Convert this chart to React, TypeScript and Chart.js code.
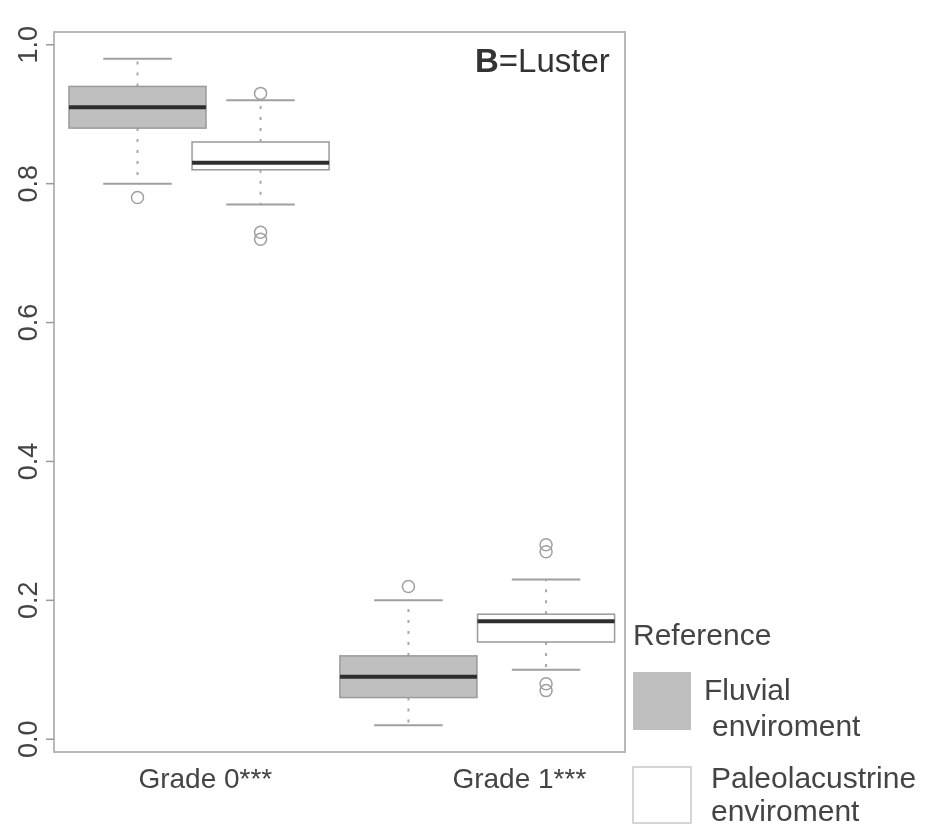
import React, { useEffect, useRef } from "react";
import { Chart, registerables } from "chart.js";
Chart.register(...registerables);

// ---- data ----
const groups = ["Grade 0***", "Grade 1***"];
const environments = ["Fluvial", "Paleolacustrine"];
const boxAt = [1.085, 1.947, 2.983, 3.947];
const labelAt = [1.56, 3.76];
const whiskerLow = [0.8, 0.77, 0.02, 0.1];
const q1 = [0.88, 0.82, 0.06, 0.14];
const median = [0.91, 0.83, 0.09, 0.17];
const q3 = [0.94, 0.86, 0.12, 0.18];
const whiskerHigh = [0.98, 0.92, 0.2, 0.23];
const outliers = [[0.78], [0.93, 0.73, 0.72], [0.22], [0.28, 0.27, 0.08, 0.07]];
const yTicks = [0, 0.2, 0.4, 0.6, 0.8, 1.0];
const yTickLabels = ["0.0", "0.2", "0.4", "0.6", "0.8", "1.0"];

const FONT = '"Liberation Sans", Arial, Helvetica, sans-serif';
const fills = ["#bfbfbf", "#ffffff"];
const BOX_W = 0.96;
const CAP_W = 0.48;

const boxPlugin = {
  id: "boxPlugin",
  beforeDatasetsDraw(chart: any) {
    const { ctx, chartArea, scales } = chart;
    const x = scales.x;
    const y = scales.y;
    ctx.save();
    // frame
    ctx.strokeStyle = "#b8b8b8";
    ctx.lineWidth = 2;
    ctx.strokeRect(chartArea.left, chartArea.top, chartArea.right - chartArea.left, chartArea.bottom - chartArea.top);
    // y ticks
    ctx.lineWidth = 1.5;
    ctx.strokeStyle = "#999";
    ctx.fillStyle = "#444";
    ctx.font = `27px ${FONT}`;
    ctx.textAlign = "center";
    ctx.textBaseline = "middle";
    yTicks.forEach((v, i) => {
      const py = y.getPixelForValue(v);
      ctx.beginPath();
      ctx.moveTo(chartArea.left - 8, py);
      ctx.lineTo(chartArea.left, py);
      ctx.stroke();
      ctx.save();
      ctx.translate(30, py);
      ctx.rotate(-Math.PI / 2);
      ctx.fillText(yTickLabels[i], 0, 0);
      ctx.restore();
    });
    // x labels
    ctx.font = `28px ${FONT}`;
    groups.forEach((g, i) => {
      ctx.fillText(g, x.getPixelForValue(labelAt[i]), chartArea.bottom + 28);
    });

    // boxes
    boxAt.forEach((at, i) => {
      const cx = x.getPixelForValue(at);
      const hw = x.getPixelForValue(at + BOX_W / 2) - cx;
      const cw = x.getPixelForValue(at + CAP_W / 2) - cx;
      const yq1 = y.getPixelForValue(q1[i]);
      const yq3 = y.getPixelForValue(q3[i]);
      const ymed = y.getPixelForValue(median[i]);
      const ylo = y.getPixelForValue(whiskerLow[i]);
      const yhi = y.getPixelForValue(whiskerHigh[i]);
      // whiskers (dotted)
      ctx.strokeStyle = "#a8a8a8";
      ctx.lineWidth = 2;
      ctx.setLineDash([3, 8]);
      ctx.beginPath();
      ctx.moveTo(cx, yq3);
      ctx.lineTo(cx, yhi);
      ctx.moveTo(cx, yq1);
      ctx.lineTo(cx, ylo);
      ctx.stroke();
      ctx.setLineDash([]);
      // caps
      ctx.strokeStyle = "#a0a0a0";
      ctx.beginPath();
      ctx.moveTo(cx - cw, yhi);
      ctx.lineTo(cx + cw, yhi);
      ctx.moveTo(cx - cw, ylo);
      ctx.lineTo(cx + cw, ylo);
      ctx.stroke();
      // box
      ctx.fillStyle = fills[i % 2];
      ctx.fillRect(cx - hw, yq3, hw * 2, yq1 - yq3);
      ctx.strokeStyle = "#9a9a9a";
      ctx.lineWidth = 1.5;
      ctx.strokeRect(cx - hw, yq3, hw * 2, yq1 - yq3);
      // median
      ctx.strokeStyle = "#2e2e2e";
      ctx.lineWidth = 4;
      ctx.beginPath();
      ctx.moveTo(cx - hw, ymed);
      ctx.lineTo(cx + hw, ymed);
      ctx.stroke();
    });

    // title
    ctx.textAlign = "left";
    ctx.textBaseline = "alphabetic";
    ctx.fillStyle = "#333";
    ctx.font = `bold 33px ${FONT}`;
    const tx = 475;
    ctx.fillText("B", tx, 72);
    const bw = ctx.measureText("B").width;
    ctx.font = `33px ${FONT}`;
    ctx.fillText("=Luster", tx + bw, 72);

    // legend
    ctx.fillStyle = "#444";
    ctx.font = `30px ${FONT}`;
    ctx.textBaseline = "middle";
    ctx.fillText("Reference", 633, 637);
    ctx.fillStyle = fills[0];
    ctx.fillRect(633, 672, 58, 58);
    ctx.fillStyle = fills[1];
    ctx.fillRect(633, 767, 58, 56);
    ctx.strokeStyle = "#c8c8c8";
    ctx.lineWidth = 1.5;
    ctx.strokeRect(633, 767, 58, 56);
    ctx.fillStyle = "#444";
    ctx.font = `30px ${FONT}`;
    ctx.fillText(environments[0], 704, 692);
    ctx.fillText("enviroment", 712, 728);
    ctx.fillText(environments[1], 711, 780);
    ctx.fillText("enviroment", 711, 813);
    ctx.restore();
  },
};

export default function App() {
  const ref = useRef<HTMLCanvasElement | null>(null);
  useEffect(() => {
    if (!ref.current) return;
    const datasets = boxAt.map((at, i) => ({
      label: `${groups[Math.floor(i / 2)]} ${environments[i % 2]}`,
      data: outliers[i].map((v) => ({ x: at, y: v })),
      pointStyle: "circle",
      pointRadius: 6,
      pointBorderWidth: 1.5,
      pointBorderColor: "#a0a0a0",
      pointBackgroundColor: "rgba(0,0,0,0)",
      showLine: false,
    }));
    const chart = new Chart(ref.current, {
      type: "scatter",
      data: { datasets },
      options: {
        animation: false,
        responsive: false,
        devicePixelRatio: 1,
        layout: { padding: { left: 54, top: 32, right: 310, bottom: 76 } },
        scales: {
          x: { type: "linear", min: 0.5, max: 4.5, display: false },
          y: { type: "linear", min: -0.0184, max: 1.0184, display: false },
        },
        plugins: { legend: { display: false }, tooltip: { enabled: false } },
      },
      plugins: [boxPlugin],
    });
    return () => chart.destroy();
  }, []);
  return (
    <div style={{ position: "absolute", left: 0, top: 0, width: 935, height: 828, background: "#fff" }}>
      <canvas ref={ref} width={935} height={828} />
    </div>
  );
}
